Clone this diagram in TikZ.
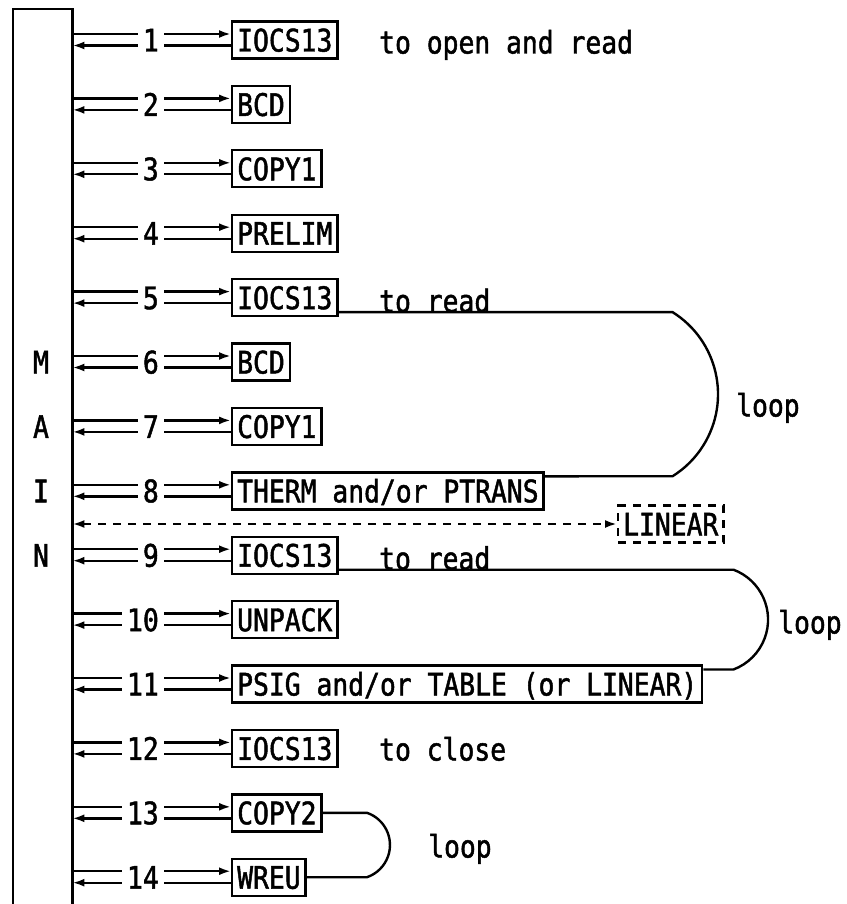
\documentclass[tikz,border=0pt]{standalone}
\usepackage{fontspec}
\setmonofont[FakeStretch=0.85, FakeBold=1.5, AutoFakeBold=1.5]{DejaVu Sans Mono}
\usetikzlibrary{arrows.meta, positioning, calc}
\tikzset{
  every picture/.style={font=\ttfamily\fontsize{31}{36}\selectfont, line width=2.4pt},
  txt/.style={text height=23pt, text depth=0pt},
  routine/.style={txt, draw, anchor=west, minimum height=37pt, inner xsep=5pt, inner ysep=0pt},
  num/.style={txt, fill=white, anchor=east, inner xsep=5pt, inner ysep=1pt},
  note/.style={txt, anchor=west, inner sep=0pt},
  arr/.style={-{Latex[length=12pt, width=8pt]}},
  arrboth/.style={{Latex[length=12pt, width=8pt]}-{Latex[length=12pt, width=8pt]}},
  dashline/.style={dash pattern=on 8pt off 7pt},
}

\begin{document}
\begin{tikzpicture}[x=1pt, y=-1pt]
  \useasboundingbox (0,0) rectangle (846,904);
  % MAIN program, open at the bottom
  \node[minimum width=57pt, minimum height=900pt, anchor=north west, inner sep=0pt] (MAIN) at (13,9) {};
  \draw (MAIN.south west) -- (MAIN.north west) -- (MAIN.north east) -- (MAIN.south east);
  \foreach \c/\k in {M/6, A/7, I/8, N/9}
    \node[txt] (main\c) at (41, {40+(\k-1)*64.4}) {\bfseries\c};
  % helper: one call, routine box with arrows to and from MAIN
  \newcommand{\callrow}[2]{% row number, routine name
    \node[routine] (r#1) at (231, {40+(#1-1)*64.4}) {\bfseries #2};
    \draw[arr] ($(r#1.west -| MAIN.east)+(0,-6)$) -- ($(r#1.west)+(0,-6)$);
    \draw[arr] ($(r#1.west)+(0,5.5)$) -- ($(r#1.west -| MAIN.east)+(0,5.5)$);
    \node[num] (n#1) at (165, {40+(#1-1)*64.4}) {\bfseries #1};}
  \callrow{1}{IOCS13}
  \callrow{2}{BCD}
  \callrow{3}{COPY1}
  \callrow{4}{PRELIM}
  \callrow{5}{IOCS13}
  \callrow{6}{BCD}
  \callrow{7}{COPY1}
  \callrow{8}{THERM and/or PTRANS}
  \callrow{9}{IOCS13}
  \callrow{10}{UNPACK}
  \callrow{11}{PSIG and/or TABLE (or LINEAR)}
  \callrow{12}{IOCS13}
  \callrow{13}{COPY2}
  \callrow{14}{WREU}
  % optional call to LINEAR
  \node[routine, dashline] (lin) at (617,524) {\bfseries LINEAR};
  \draw[arrboth, dashline] (lin.west -| MAIN.east) -- (lin.west);
  % loops
  \coordinate (l1) at (672.5,312.1);
  \draw ($(r5.east)+(0,14.5)$) -- (l1) arc[start angle=58, end angle=-58, radius=96.8pt] -- ($(r8.east)+(0,-14.5)$);
  \coordinate (l2) at (733.5,569.7);
  \draw ($(r9.east)+(0,14.5)$) -- (l2) arc[start angle=69.4, end angle=-69.4, radius=53.3pt] -- ($(r11.east)+(0,-14.5)$);
  \coordinate (l3) at (367,812.8);
  \draw (r13.east) -- (l3) arc[start angle=71, end angle=-71, radius=34.05pt] -- (r14.east);
  % notes
  \node[note] (t1) at (378,42) {\bfseries to open and read};
  \node[note, anchor=base west] (t5) at (378,312.1) {\bfseries to read};
  \node[note, anchor=base west] (t9) at (378,569.7) {\bfseries to read};
  \node[note] (t12) at (378,749) {\bfseries to close};
  \node[note] (lp1) at (735,405) {\bfseries loop};
  \node[note] (lp2) at (777,622) {\bfseries loop};
  \node[note] (lp3) at (427,846) {\bfseries loop};
\end{tikzpicture}
\end{document}
